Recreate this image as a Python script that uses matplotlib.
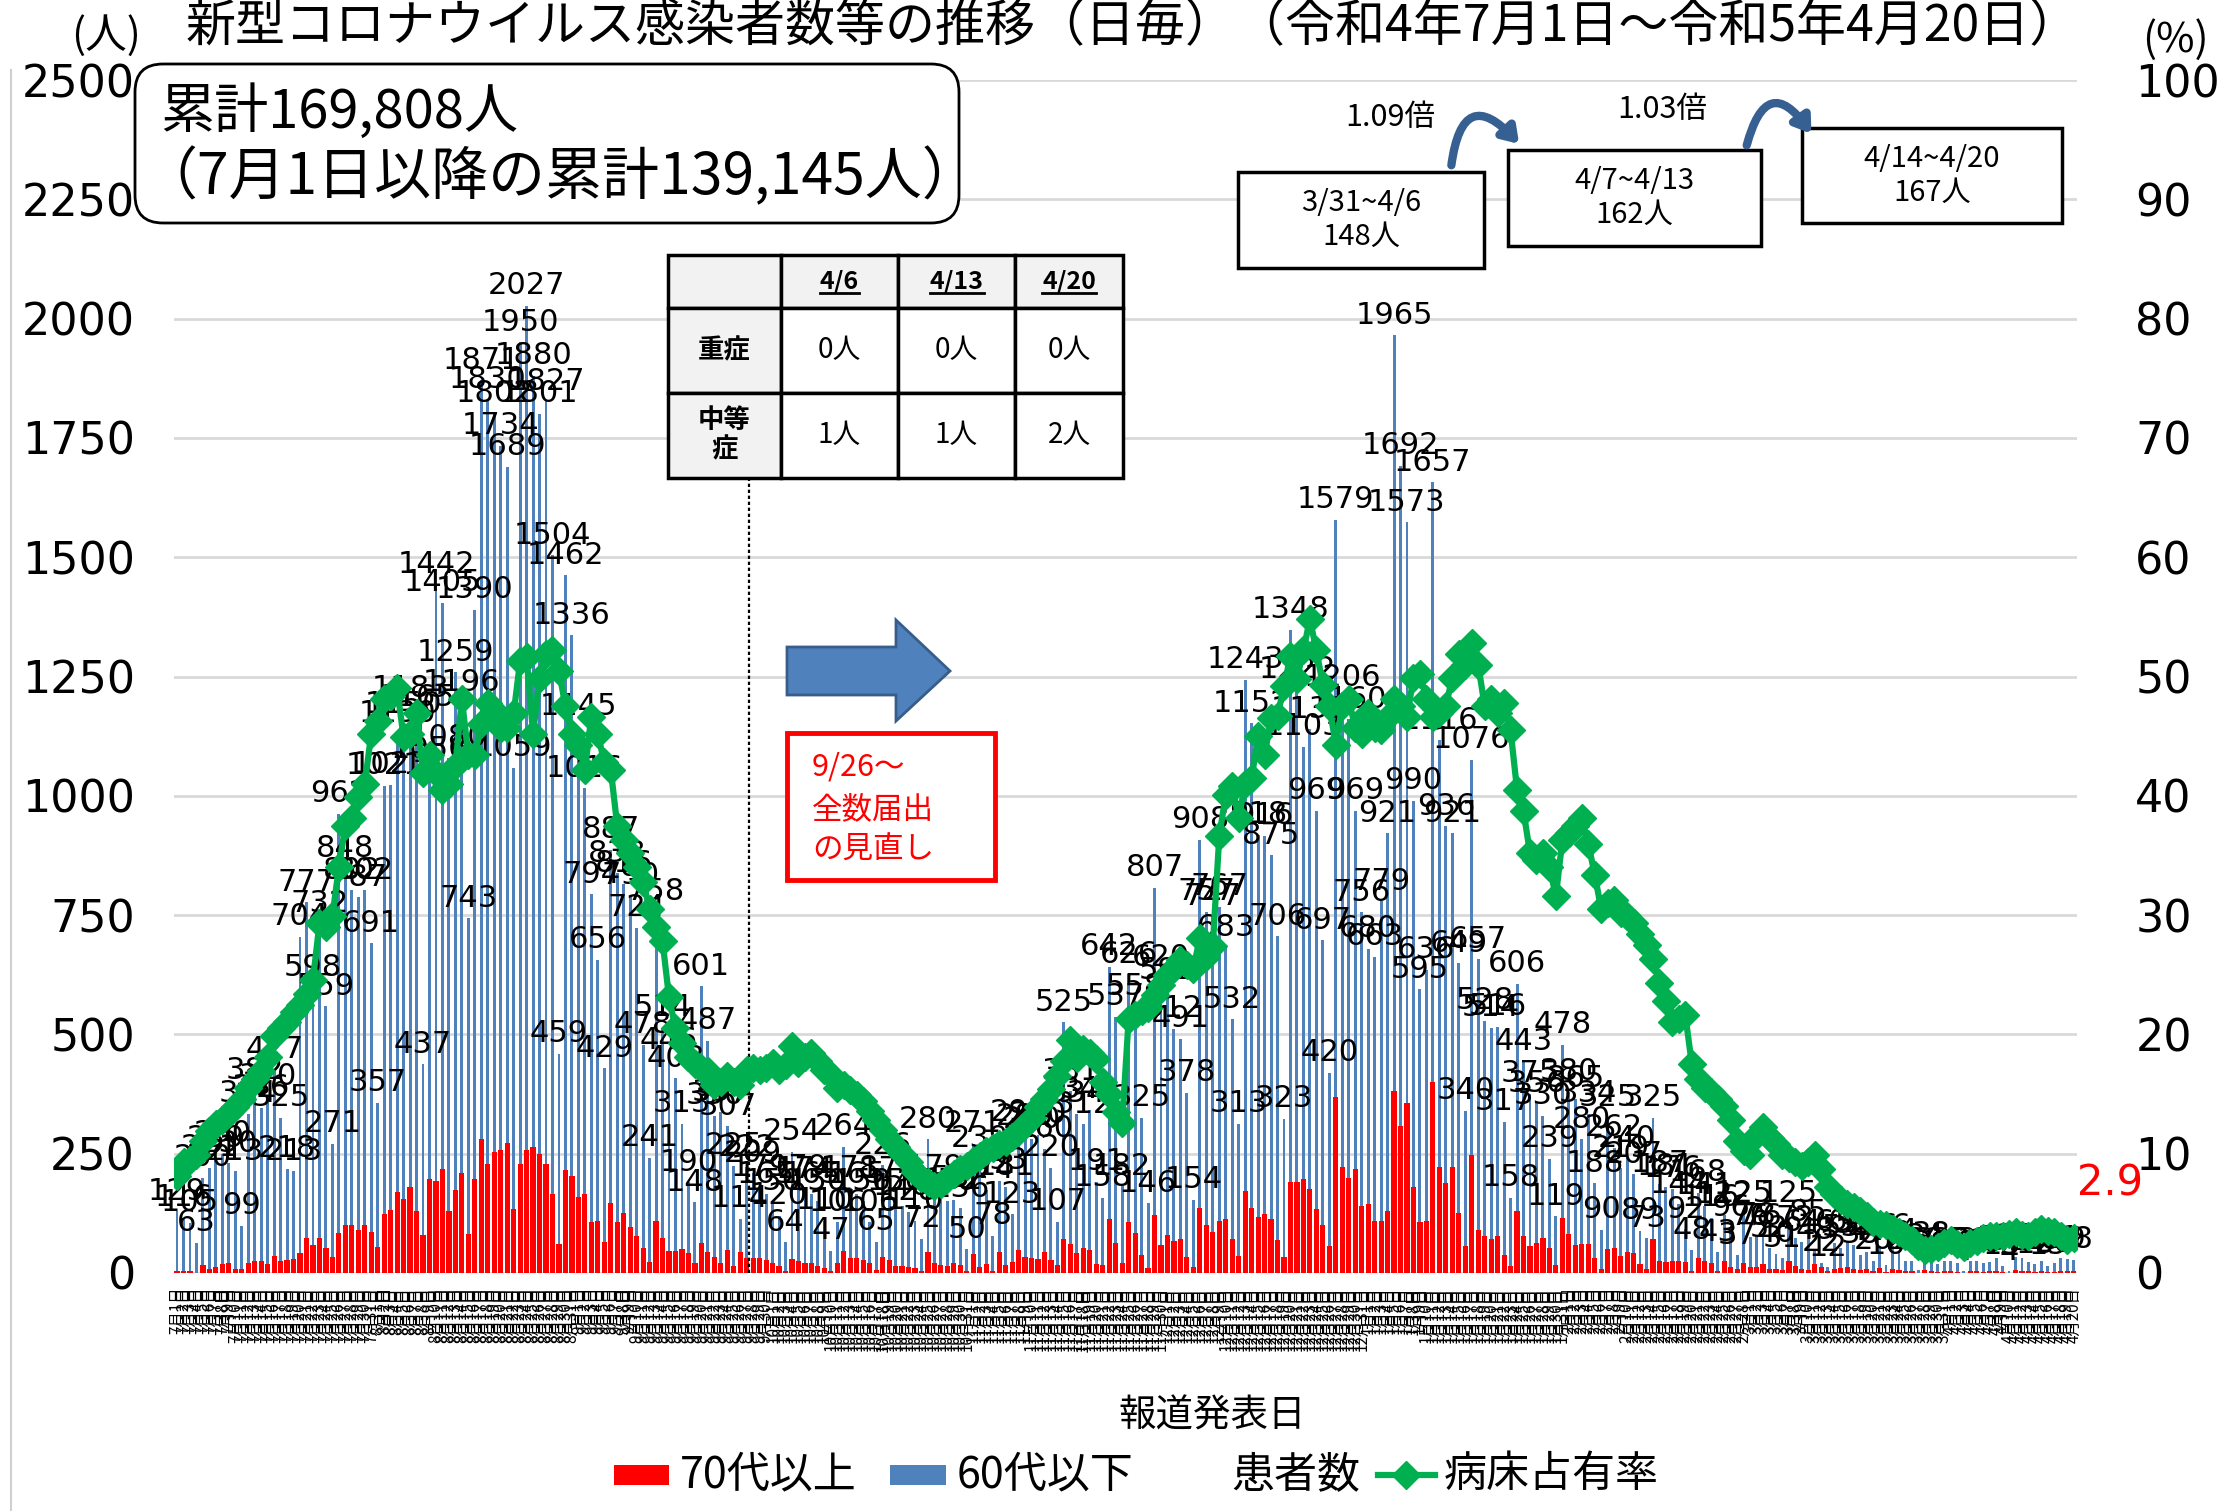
import datetime as dt
import numpy as np
import matplotlib
matplotlib.use("Agg")
import matplotlib.pyplot as plt
from matplotlib.patches import FancyBboxPatch, Rectangle, FancyArrowPatch, Polygon
from matplotlib.lines import Line2D

plt.rcParams['font.family'] = ['DejaVu Sans', 'Noto Sans CJK JP']
JP = ['Noto Sans CJK JP', 'DejaVu Sans']

# ---------------- data ----------------
start_date = dt.date(2022, 7, 1)

# total daily cases (患者数)
totals = [
    129, 116, 105, 63, 200, 221, 239, 250, 230, 213,
    99, 334, 382, 346, 370, 427, 325, 218, 213, 704,
    777, 598, 732, 559, 271, 962, 848, 802, 787, 802,
    691, 357, 1021, 1023, 1130, 1150, 1183, 1165, 437, 1056,
    1442, 1405, 1080, 1259, 1196, 743, 1390, 1871, 1830, 1802,
    1734, 1689, 1059, 1950, 2027, 1880, 1801, 1827, 1504, 459,
    1462, 1336, 1145, 1016, 794, 656, 429, 887, 838, 816,
    790, 724, 478, 241, 758, 514, 446, 408, 313, 190,
    148, 601, 487, 330, 337, 307, 225, 114, 222, 209,
    179, 165, 150, 120, 64, 254, 179, 174, 165, 150,
    110, 47, 106, 264, 178, 165, 150, 106, 65, 226,
    174, 150, 140, 128, 110, 72, 280, 179, 156, 150,
    152, 136, 50, 271, 239, 174, 78, 193, 181, 123,
    295, 285, 280, 290, 260, 220, 107, 525, 381, 334,
    312, 342, 191, 158, 642, 537, 182, 626, 558, 325,
    146, 807, 620, 592, 512, 491, 378, 154, 908, 757,
    747, 767, 683, 532, 313, 1243, 1152, 918, 916, 875,
    706, 323, 1348, 1222, 1103, 1139, 969, 697, 420, 1579,
    1206, 1160, 969, 756, 680, 663, 779, 921, 1965, 1692,
    1573, 990, 595, 636, 1657, 1116, 936, 921, 649, 340,
    1076, 657, 528, 514, 516, 317, 158, 606, 443, 375,
    356, 330, 239, 119, 478, 380, 365, 280, 334, 188,
    90, 325, 262, 219, 240, 207, 89, 73, 325, 187,
    181, 176, 144, 92, 48, 168, 141, 116, 43, 122,
    96, 37, 125, 76, 78, 76, 52, 40, 31, 125,
    73, 64, 85, 48, 22, 12, 63, 53, 66, 59,
    38, 44, 26, 56, 16, 56, 44, 26, 26, 7,
    34, 38, 19, 26, 26, 20, 4, 26, 26, 20,
    23, 31, 15, 4, 34, 31, 24, 18, 26, 15,
    20, 31, 29, 28,
]

# 70代以上
age70_plus = [
    4, 4, 4, 0, 16, 9, 12, 18, 22, 9,
    9, 22, 25, 25, 18, 35, 25, 28, 30, 41,
    74, 59, 74, 53, 34, 84, 101, 101, 90, 101,
    85, 54, 124, 132, 169, 156, 181, 129, 79, 196,
    193, 218, 129, 173, 210, 81, 196, 281, 228, 254,
    257, 272, 134, 229, 257, 265, 250, 229, 166, 60,
    215, 203, 159, 166, 106, 110, 66, 147, 107, 125,
    96, 78, 53, 24, 110, 74, 46, 46, 51, 41,
    22, 63, 44, 34, 20, 49, 15, 44, 31, 31,
    31, 28, 20, 15, 5, 30, 25, 22, 20, 15,
    10, 5, 22, 46, 31, 31, 28, 20, 6, 34,
    28, 15, 15, 12, 10, 5, 44, 20, 16, 14,
    21, 16, 4, 39, 12, 18, 4, 45, 16, 23,
    48, 33, 31, 29, 45, 27, 16, 72, 61, 41,
    53, 49, 19, 16, 114, 62, 21, 107, 83, 38,
    10, 122, 59, 80, 67, 72, 33, 12, 137, 100,
    86, 109, 114, 71, 36, 172, 137, 118, 124, 114,
    69, 33, 190, 190, 197, 176, 135, 100, 56, 368,
    222, 200, 218, 141, 144, 110, 110, 129, 382, 309,
    357, 181, 107, 110, 401, 222, 188, 222, 125, 56,
    247, 90, 78, 71, 78, 38, 15, 129, 78, 56,
    63, 74, 53, 16, 115, 82, 59, 60, 60, 31,
    9, 51, 53, 35, 44, 41, 19, 9, 71, 26,
    24, 26, 26, 24, 4, 31, 26, 22, 5, 26,
    12, 9, 22, 12, 12, 19, 9, 9, 7, 26,
    15, 9, 7, 19, 12, 4, 9, 10, 12, 8,
    6, 8, 4, 10, 3, 8, 6, 4, 5, 1,
    6, 5, 3, 4, 5, 3, 1, 4, 4, 3,
    4, 5, 2, 1, 6, 5, 4, 3, 4, 2,
    3, 5, 4, 4,
]

# 病床占有率 (%)
bed_rate = [
    8.1, 9.3, 9.5, 9.9, 11.1, 11.9, 12.5, 12.8, 13.4, 13.9,
    14.6, 15.5, 16.3, 16.9, 18.1, 19.9, 20.5, 21.0, 21.9, 22.5,
    23.4, 24.6, 29.3, 29.0, 29.9, 34.0, 37.5, 38.1, 39.9, 41.0,
    45.2, 46.3, 48.1, 48.4, 49.0, 44.9, 45.2, 46.9, 41.9, 43.4,
    41.9, 40.5, 41.0, 42.5, 48.1, 43.4, 43.4, 46.0, 47.8, 47.2,
    45.7, 45.7, 46.9, 51.3, 51.6, 45.2, 49.9, 51.9, 52.2, 50.5,
    47.5, 45.2, 44.3, 42.2, 46.6, 45.2, 42.8, 42.2, 37.5, 36.3,
    35.2, 34.0, 32.8, 30.5, 29.0, 27.8, 23.1, 20.5, 19.3, 18.1,
    17.5, 17.2, 16.9, 15.8, 16.0, 16.5, 16.0, 15.8, 17.0, 17.2,
    17.0, 17.2, 17.6, 17.0, 17.4, 19.0, 17.6, 18.1, 18.4, 17.8,
    17.0, 16.6, 15.5, 15.8, 15.3, 14.9, 14.4, 13.6, 12.8, 12.0,
    11.2, 10.6, 10.0, 9.3, 8.5, 8.0, 7.6, 7.3, 7.5, 7.9,
    8.3, 8.7, 9.0, 9.4, 9.8, 10.2, 10.5, 10.8, 11.0, 11.4,
    11.9, 12.4, 13.0, 13.9, 14.6, 15.4, 16.5, 17.8, 19.5, 18.0,
    18.8, 18.4, 17.9, 16.0, 15.0, 13.5, 12.6, 21.3, 21.6, 22.0,
    22.2, 23.3, 24.1, 25.0, 25.6, 26.2, 25.8, 25.5, 28.1, 26.5,
    27.4, 36.6, 40.1, 40.8, 38.1, 41.0, 41.5, 45.0, 43.4, 46.5,
    46.7, 49.2, 51.7, 49.8, 52.2, 54.8, 52.2, 49.3, 47.5, 44.3,
    47.5, 48.1, 45.7, 45.2, 46.9, 45.7, 45.5, 46.6, 48.1, 47.5,
    46.6, 49.9, 50.2, 48.1, 46.6, 46.9, 47.5, 49.9, 51.9, 51.0,
    52.8, 51.0, 47.5, 48.1, 46.9, 47.8, 45.5, 40.5, 38.7, 35.2,
    34.6, 35.2, 34.0, 31.6, 36.3, 36.9, 37.5, 38.1, 36.0, 33.4,
    30.5, 31.0, 31.3, 30.2, 29.9, 29.3, 28.4, 27.5, 26.3, 24.3,
    22.8, 21.0, 21.3, 21.6, 17.5, 16.3, 15.5, 15.2, 14.6, 14.0,
    12.8, 11.1, 10.2, 9.9, 11.6, 12.2, 11.3, 10.8, 9.9, 9.6,
    9.3, 9.0, 9.3, 9.9, 8.7, 7.2, 6.6, 6.1, 5.8, 5.5,
    5.2, 4.8, 4.3, 4.1, 4.0, 3.7, 3.4, 3.1, 2.8, 2.3,
    1.9, 2.0, 2.2, 2.5, 2.8, 2.4, 2.2, 2.5, 2.7, 2.9,
    3.1, 3.1, 3.1, 3.3, 3.4, 3.2, 3.1, 3.4, 3.7, 3.5,
    3.4, 3.1, 2.8, 2.9,
]

left_ticks = [0, 250, 500, 750, 1000, 1250, 1500, 1750, 2000, 2250, 2500]
right_ticks = [0, 10, 20, 30, 40, 50, 60, 70, 80, 90, 100]

table_cols = ["4/6", "4/13", "4/20"]
table_rows = ["重症", "中等\n症"]
table_vals = [["0人", "0人", "0人"], ["1人", "1人", "2人"]]

weeks = ["3/31~4/6", "4/7~4/13", "4/14~4/20"]
week_counts = ["148人", "162人", "167人"]
week_ratios = ["1.09倍", "1.03倍"]

n = len(totals)
assert len(age70_plus) == n and len(bed_rate) == n
under60 = [t - r for t, r in zip(totals, age70_plus)]
dates = [start_date + dt.timedelta(days=i) for i in range(n)]
xlabels = [f"{d.month}月{d.day}日" for d in dates]
x = np.arange(n)

# ---------------- figure ----------------
W, H = 2223, 1511
fig = plt.figure(figsize=(W / 100, H / 100), dpi=100)


def fx(px):
    return px / W


def fy(py):
    return 1 - py / H


ax_l, ax_r, ax_b, ax_t = 173.8, 2077, 1273, 80
ax = fig.add_axes([fx(ax_l), fy(ax_b), fx(ax_r) - fx(ax_l), fy(ax_t) - fy(ax_b)])

RED = '#FF0000'
BLUE = '#4F81BD'
GREEN = '#00B050'

ax.bar(x, age70_plus, width=0.8, color=RED, zorder=2, linewidth=0)
ax.bar(x, under60, bottom=age70_plus, width=0.45, color=BLUE, zorder=2, linewidth=0)

for xi, t in zip(x, totals):
    ax.annotate(str(t), (xi, t), xytext=(0, 4), textcoords='offset points',
                ha='center', va='bottom', fontsize=22, color='black', zorder=3)

ax.set_xlim(-0.5, n - 0.5)
ax.set_ylim(0, 2500)
ax.set_yticks(left_ticks)
ax.yaxis.grid(True, color='#D9D9D9', linewidth=2)
ax.set_axisbelow(True)
for s in ax.spines.values():
    s.set_visible(False)
ax.tick_params(axis='y', length=0, pad=28, labelsize=32)
ax.set_xticks(x)
ax.set_xticklabels(xlabels, rotation=90, fontsize=11, family=JP)
ax.tick_params(axis='x', length=0, pad=10)

# dotted separator at the 9/26 change
sep_x = 88.4
ax.vlines(sep_x, 0, 1666, colors='black', linestyles=(0, (1.5, 1.2)), linewidth=1.6, zorder=3)

ax2 = ax.twinx()
ax2.plot(x, bed_rate, color=GREEN, linewidth=4.5, marker='D', markersize=14,
         markeredgecolor=GREEN, zorder=5)
ax2.set_ylim(0, 100)
ax2.set_yticks(right_ticks)
for s in ax2.spines.values():
    s.set_visible(False)
ax2.tick_params(axis='y', length=0, pad=42, labelsize=32)
ax2.set_xlim(-0.5, n - 0.5)

# ---------------- overlay (pixel coordinates) ----------------
ov = fig.add_axes([0, 0, 1, 1])
ov.set_xlim(0, W)
ov.set_ylim(H, 0)
ov.axis('off')

# left border line
ov.plot([11, 11], [70, H], color='#D0D0D0', linewidth=1.5)

ov.text(1133, 27, "新型コロナウイルス感染者数等の推移（日毎）（令和4年7月1日～令和5年4月20日）",
        ha='center', va='center', fontsize=36, family=JP)
ov.text(106, 36, "(人)", ha='center', va='center', fontsize=30, family=JP)
ov.text(2175, 40, "(%)", ha='center', va='center', fontsize=30, family=JP)

# cumulative box
ov.add_patch(FancyBboxPatch((135, 64), 824, 159, boxstyle="round,pad=0,rounding_size=28",
                            fc='white', ec='black', lw=2, zorder=5))
ov.text(160, 112, "累計169,808人", ha='left', va='center', fontsize=39, family=JP, zorder=6)
ov.text(140, 177, "（7月1日以降の累計139,145人）", ha='left', va='center', fontsize=41,
        family=JP, zorder=6)

# table
col_edges = [668, 781, 898, 1015, 1123]
row_edges = [255, 308, 393, 478]
for r in range(3):
    for c in range(4):
        gray = (r == 0) or (c == 0)
        ov.add_patch(Rectangle((col_edges[c], row_edges[r]), col_edges[c + 1] - col_edges[c],
                               row_edges[r + 1] - row_edges[r],
                               fc='#F2F2F2' if gray else 'white', ec='black', lw=2.5, zorder=5))
header_texts = []
for c, lab in enumerate(table_cols):
    cx = (col_edges[c + 1] + col_edges[c + 2]) / 2
    cy = (row_edges[0] + row_edges[1]) / 2
    t = ov.text(cx, cy, lab, ha='center', va='center', fontsize=18, fontweight='bold',
                family=JP, zorder=6)
    header_texts.append(t)
for r, lab in enumerate(table_rows):
    cx = (col_edges[0] + col_edges[1]) / 2
    cy = (row_edges[r + 1] + row_edges[r + 2]) / 2
    ov.text(cx, cy, lab, ha='center', va='center', fontsize=19, fontweight='bold',
            family=JP, zorder=6, linespacing=1.1)
    for c in range(3):
        cx2 = (col_edges[c + 1] + col_edges[c + 2]) / 2
        ov.text(cx2, cy, table_vals[r][c], ha='center', va='center', fontsize=20,
                family=JP, zorder=6)

# big blue arrow
ov.add_patch(Polygon([(787, 647), (896, 647), (896, 620), (950, 671), (896, 721), (896, 695),
                      (787, 695)], closed=True, fc='#4F81BD', ec='#385D8A', lw=2, zorder=5))

# red annotation box
ov.add_patch(Rectangle((787, 733), 208, 147, fc='white', ec='#FF0000', lw=3.5, zorder=5))
ov.text(812, 767, "9/26～", ha='left', va='center', fontsize=22, color='#FF0000', family=JP, zorder=6)
ov.text(812, 810, "全数届出", ha='left', va='center', fontsize=22, color='#FF0000', family=JP, zorder=6)
ov.text(812, 850, "の見直し", ha='left', va='center', fontsize=22, color='#FF0000', family=JP, zorder=6)

# weekly boxes
boxes = [(1238, 172, 1484, 268), (1508, 150, 1761, 246), (1802, 128, 2062, 223)]
for (x0, y0, x1, y1), wk, cnt in zip(boxes, weeks, week_counts):
    ov.add_patch(Rectangle((x0, y0), x1 - x0, y1 - y0, fc='white', ec='black', lw=2.5, zorder=5))
    cx = (x0 + x1) / 2
    cy = (y0 + y1) / 2
    ov.text(cx, cy - 17, wk, ha='center', va='center', fontsize=21, family=JP, zorder=6)
    ov.text(cx, cy + 17, cnt, ha='center', va='center', fontsize=21, family=JP, zorder=6)
ov.text(1390, 118, week_ratios[0], ha='center', va='center', fontsize=22, family=JP)
ov.text(1662, 109, week_ratios[1], ha='center', va='center', fontsize=22, family=JP)
for (sx, sy), (ex, ey) in [((1451, 168), (1521, 146)), ((1746, 148), (1813, 136))]:
    ov.add_patch(FancyArrowPatch((sx, sy), (ex, ey), connectionstyle="arc3,rad=-1.1",
                                 arrowstyle='-|>,head_length=9,head_width=6',
                                 color='#376092', lw=6, zorder=7))

# last value label
ov.text(2077, 1183, "2.9", ha='left', va='center', fontsize=30, color='#FF0000')

# x-axis title
ov.text(1212, 1416, "報道発表日", ha='center', va='center', fontsize=27, family=JP)

# legend
ly = 1475
ov.add_patch(Rectangle((614, ly - 10), 55, 20, fc=RED, ec='none'))
ov.text(680, ly, "70代以上", ha='left', va='center', fontsize=31, family=JP)
ov.add_patch(Rectangle((890, ly - 10), 56, 20, fc=BLUE, ec='none'))
ov.text(957, ly, "60代以下", ha='left', va='center', fontsize=31, family=JP)
ov.text(1231, ly, "患者数", ha='left', va='center', fontsize=31, family=JP)
ov.add_line(Line2D([1378, 1435], [ly, ly], color=GREEN, lw=4.5))
ov.plot([1406], [ly], marker='D', markersize=14, color=GREEN)
ov.text(1444, ly, "病床占有率", ha='left', va='center', fontsize=31, family=JP)

# underline the table headers
fig.canvas.draw()
inv = ov.transData.inverted()
for t in header_texts:
    bb = t.get_window_extent()
    (x0d, y0d) = inv.transform((bb.x0, bb.y0))
    (x1d, _) = inv.transform((bb.x1, bb.y0))
    ov.plot([x0d, x1d], [y0d - 1, y0d - 1], color='black', lw=2, zorder=7)

fig.savefig("out.png", dpi=100)
